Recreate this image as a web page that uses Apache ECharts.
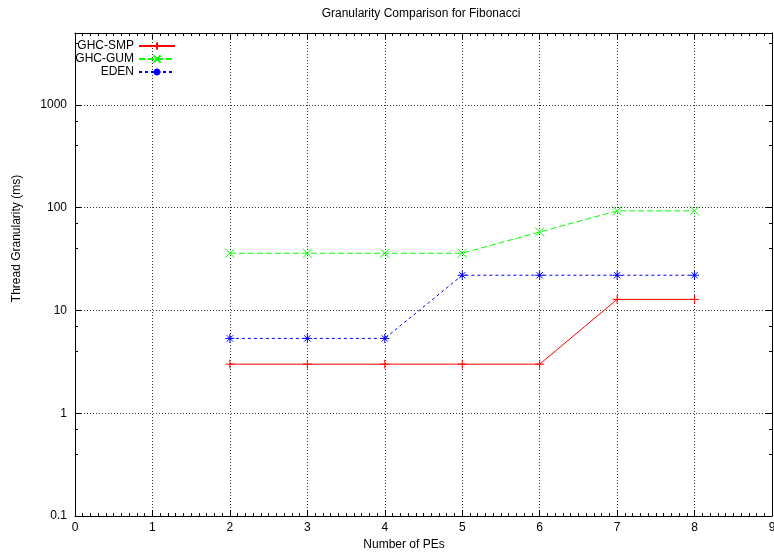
<!DOCTYPE html>
<html>
<head>
<meta charset="utf-8">
<script src="https://cdn.jsdelivr.net/npm/echarts@6/dist/echarts.min.js"></script>
<style>html,body{margin:0;padding:0;background:#fff}#c{width:774px;height:554px}</style>
</head>
<body>
<div id="c"></div>
<script>
const peCounts = [2, 3, 4, 5, 6, 7, 8];
const ghcSmp = [3, 3, 3, 3, 3, 12.8, 12.8];
const ghcGum = [36, 36, 36, 36, 58, 93, 93];
const eden = [5.34, 5.34, 5.34, 22, 22, 22, 22];
const seriesNames = ['GHC-SMP', 'GHC-GUM', 'EDEN'];
const titleText = 'Granularity Comparison for Fibonacci';
const xName = 'Number of PEs';
const yName = 'Thread Granularity (ms)';

const FONT = '"Liberation Sans", Arial, Helvetica, sans-serif';
const pair = (ys) => peCounts.map((x, i) => [x, ys[i]]);
const plus = 'path://M0,5L10,5M5,0L5,10';
const cross = 'path://M0,0L10,10M10,0L0,10';
const star = 'path://M0,5L10,5M5,0L5,10M1.5,1.5L8.5,8.5M8.5,1.5L1.5,8.5';

const grid = { left: 75, right: 2, top: 33, bottom: 38, outerBoundsMode: 'none', containLabel: false };
const gridLine = { show: true, lineStyle: { color: '#333', type: [1, 2], width: 1 } };
const frame = { show: true, onZero: false, lineStyle: { color: '#000', width: 1 } };

const yLabelFmt = (v) => {
  const l = Math.log10(v);
  return Math.abs(l - Math.round(l)) < 1e-6 ? String(+v.toPrecision(6)) : '';
};

const chart = echarts.init(document.getElementById('c'), null, { renderer: 'canvas' });
const mkSeries = (name, data, color, lineType, symbol) => ({
  name, type: 'line', data: pair(data), symbol, symbolSize: 9,
  showSymbol: true,
  lineStyle: { color, width: 1, type: lineType },
  itemStyle: { color, borderColor: color, borderWidth: 1 },
  emphasis: { disabled: true },
  animation: false
});
const legendAt = (name, top) => ({
  data: [name], orient: 'vertical', align: 'right', right: 598, top,
  padding: 0, itemWidth: 36, itemHeight: 9,
  textStyle: { fontFamily: FONT, fontSize: 12, color: '#000' }
});

chart.setOption({
  animation: false,
  backgroundColor: '#fff',
  textStyle: { fontFamily: FONT },
  graphic: [{
    type: 'text', x: 421, y: 14,
    style: { text: titleText, fontFamily: FONT, fontSize: 12, fill: '#000', align: 'center', verticalAlign: 'middle' }
  }],
  legend: [legendAt(seriesNames[0], 40), legendAt(seriesNames[1], 53), legendAt(seriesNames[2], 66)],
  grid,
  xAxis: [{
    type: 'value', min: 0, max: 9, interval: 1, position: 'bottom',
    name: xName, nameLocation: 'middle', nameGap: 23,
    nameTextStyle: { fontFamily: FONT, fontSize: 12, color: '#000', padding: [0, 39, 0, 0] },
    axisLine: frame,
    axisTick: { show: true, inside: true, length: 6, lineStyle: { color: '#000' } },
    minorTick: { show: true, splitNumber: 10, length: 3, lineStyle: { color: '#000' } },
    axisLabel: { fontFamily: FONT, fontSize: 12, color: '#000', margin: 6 },
    splitLine: gridLine
  }, {
    type: 'value', min: 0, max: 9, interval: 1, position: 'top',
    axisLine: frame,
    axisTick: { show: true, inside: true, length: 6, lineStyle: { color: '#000' } },
    minorTick: { show: true, splitNumber: 10, length: 3, lineStyle: { color: '#000' } },
    axisLabel: { show: false }, splitLine: { show: false }
  }],
  yAxis: [{
    type: 'log', logBase: 10, min: 0.1, max: 5000, position: 'left',
    name: yName, nameLocation: 'middle', nameGap: 52, nameRotate: 90,
    nameTextStyle: { fontFamily: FONT, fontSize: 12, color: '#000', padding: [0, 0, 0, 72] },
    axisLine: frame,
    axisTick: { show: true, inside: true, length: 6, lineStyle: { color: '#000' } },
    minorTick: { show: true, splitNumber: 3, length: 3, lineStyle: { color: '#000' } },
    axisLabel: { fontFamily: FONT, fontSize: 12, color: '#000', margin: 8, formatter: yLabelFmt },
    splitLine: gridLine
  }, {
    type: 'log', logBase: 10, min: 0.1, max: 5000, position: 'right',
    axisLine: frame,
    axisTick: { show: true, inside: true, length: 6, lineStyle: { color: '#000' } },
    minorTick: { show: true, splitNumber: 3, length: 3, lineStyle: { color: '#000' } },
    axisLabel: { show: false }, splitLine: { show: false }
  }],
  series: [
    mkSeries(seriesNames[0], ghcSmp, '#ff0000', 'solid', plus),
    mkSeries(seriesNames[1], ghcGum, '#00ff00', [6, 3], cross),
    mkSeries(seriesNames[2], eden, '#0000ff', [3, 3], star)
  ]
});
</script>
</body>
</html>
